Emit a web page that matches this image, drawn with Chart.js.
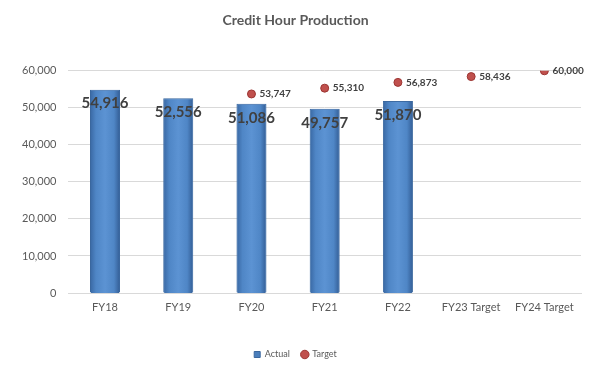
<!DOCTYPE html>
<html>
<head>
<meta charset="utf-8">
<script src="https://cdn.jsdelivr.net/npm/chart.js@4.4.0/dist/chart.umd.min.js"></script>
<style>
  html, body { margin: 0; padding: 0; background: #fff; }
  #wrap { width: 597px; height: 369px; }
</style>
</head>
<body>
<div id="wrap"><canvas id="chart"></canvas></div>
<script>
const categories = ['FY18', 'FY19', 'FY20', 'FY21', 'FY22', 'FY23 Target', 'FY24 Target'];
const actualValues = [54916, 52556, 51086, 49757, 51870, null, null];
const targetValues = [null, null, 53747, 55310, 56873, 58436, 60000];
const yTicks = [0, 10000, 20000, 30000, 40000, 50000, 60000];

const fontFamily = "Lato, 'Open Sans', sans-serif";
const textColor = '#595959';
const barRatio = 0.41;

// horizontal bevel-like shading laid over each bar, placed with the chart's scales
const barShading = {
    id: 'barShading',
    afterDatasetDraw(chart, args) {
        if (args.index !== 0) return;
        const ctx = chart.ctx;
        const xScale = chart.scales.x;
        const yScale = chart.scales.y;
        const w = (xScale.width / categories.length) * barRatio;
        ctx.save();
        actualValues.forEach((v, i) => {
            if (v == null) return;
            const cx = xScale.getPixelForValue(i);
            const top = yScale.getPixelForValue(v);
            const base = yScale.getPixelForValue(0);
            const left = cx - w / 2 + 1;
            const right = cx + w / 2 - 1;
            const g = ctx.createLinearGradient(left, 0, right, 0);
            g.addColorStop(0, '#3c6ca8');
            g.addColorStop(0.18, '#4f86c6');
            g.addColorStop(0.5, '#5c93d3');
            g.addColorStop(0.82, '#4f86c6');
            g.addColorStop(1, '#37639c');
            ctx.fillStyle = g;
            ctx.fillRect(left, top + 1, right - left, base - top - 1);
        });
        ctx.restore();
    }
};

const valueLabels = {
    id: 'valueLabels',
    afterDatasetsDraw(chart) {
        const ctx = chart.ctx;
        ctx.save();
        const barMeta = chart.getDatasetMeta(0);
        ctx.font = "bold 15px " + fontFamily;
        ctx.fillStyle = '#404040';
        ctx.textAlign = 'center';
        ctx.textBaseline = 'middle';
        barMeta.data.forEach((el, i) => {
            if (actualValues[i] == null) return;
            ctx.fillText(actualValues[i].toLocaleString('en-US'), el.x, el.y + 14);
        });
        const ptMeta = chart.getDatasetMeta(1);
        ctx.font = "bold 10px " + fontFamily;
        ctx.textAlign = 'left';
        ptMeta.data.forEach((el, i) => {
            if (targetValues[i] == null) return;
            ctx.fillText(targetValues[i].toLocaleString('en-US'), el.x + 8, el.y);
        });
        ctx.restore();
    }
};

const ctx = document.getElementById('chart').getContext('2d');
new Chart(ctx, {
    data: {
        labels: categories,
        datasets: [{
            type: 'bar',
            label: 'Actual',
            data: actualValues,
            backgroundColor: '#4a7ebb',
            borderColor: '#3a679e',
            borderWidth: 1,
            categoryPercentage: 1,
            barPercentage: barRatio,
            order: 2
        }, {
            type: 'line',
            label: 'Target',
            data: targetValues,
            showLine: false,
            pointStyle: 'circle',
            pointRadius: 4,
            pointBackgroundColor: '#c0504d',
            pointBorderColor: '#9c3532',
            pointBorderWidth: 1,
            order: 1
        }]
    },
    options: {
        responsive: true,
        maintainAspectRatio: false,
        animation: false,
        layout: { padding: { top: 4, right: 16, left: 10, bottom: 0 } },
        plugins: {
            title: {
                display: true,
                text: 'Credit Hour Production',
                color: textColor,
                font: { family: fontFamily, size: 14, weight: 'bold' },
                padding: { top: 8, bottom: 42 }
            },
            legend: {
                position: 'bottom',
                labels: {
                    usePointStyle: true,
                    boxWidth: 6,
                    boxHeight: 6,
                    padding: 12,
                    color: textColor,
                    font: { family: fontFamily, size: 9 },
                    generateLabels(chart) {
                        return [
                            { text: 'Actual', fillStyle: '#4a7ebb', strokeStyle: '#3a679e', lineWidth: 1, pointStyle: 'rect', datasetIndex: 0, fontColor: textColor },
                            { text: 'Target', fillStyle: '#c0504d', strokeStyle: '#9c3532', lineWidth: 1, pointStyle: 'circle', datasetIndex: 1, fontColor: textColor }
                        ];
                    }
                }
            },
            tooltip: { enabled: false }
        },
        scales: {
            x: {
                grid: { display: false },
                border: { color: '#d9d9d9' },
                afterFit(axis) { axis.height = 45; },
                ticks: {
                    color: textColor,
                    padding: 0,
                    maxRotation: 0,
                    font: { family: fontFamily, size: 11 }
                }
            },
            y: {
                min: 0,
                max: 60000,
                afterBuildTicks(axis) {
                    axis.ticks = yTicks.map(v => ({ value: v }));
                },
                grid: { color: '#d9d9d9', drawTicks: false },
                border: { display: false },
                ticks: {
                    color: textColor,
                    padding: 12,
                    font: { family: fontFamily, size: 11 },
                    callback: v => v.toLocaleString('en-US')
                }
            }
        }
    },
    plugins: [barShading, valueLabels]
});
</script>
</body>
</html>
